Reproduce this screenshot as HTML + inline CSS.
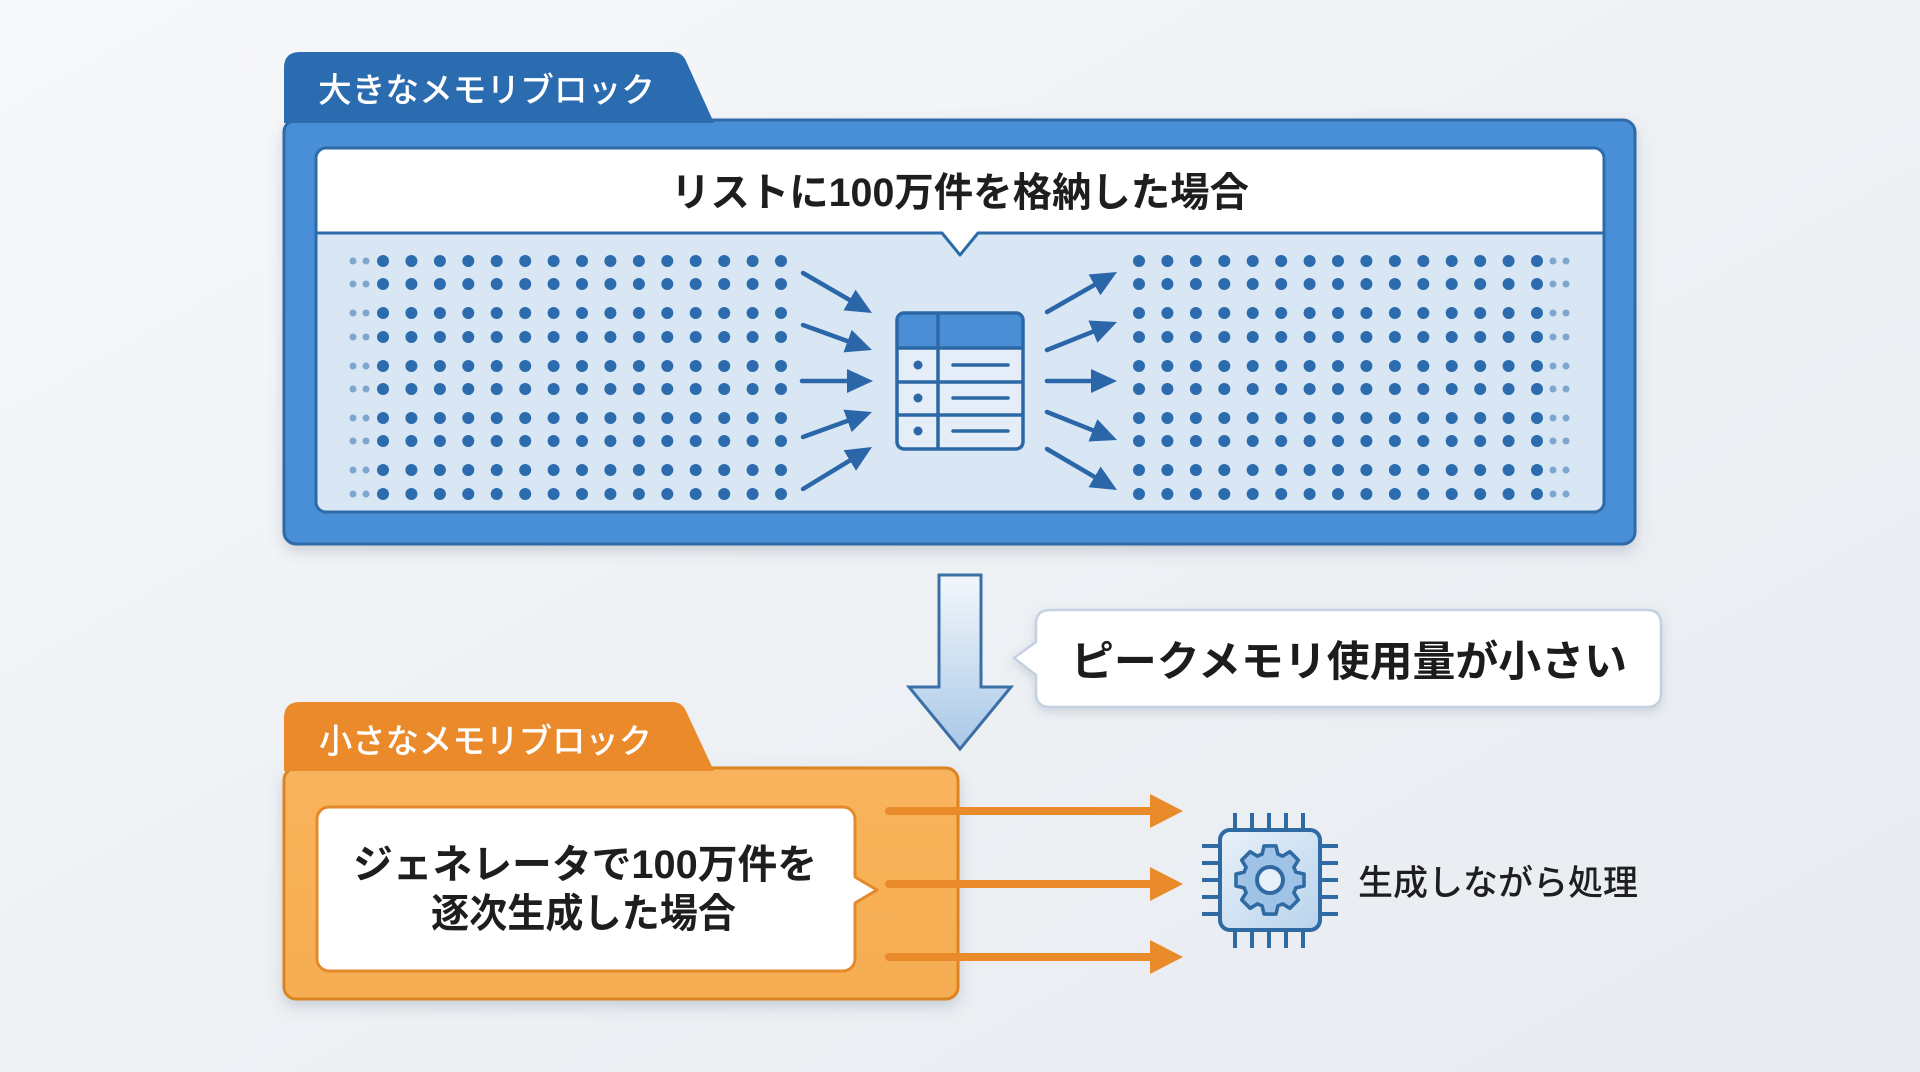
<!DOCTYPE html>
<html>
<head>
<meta charset="utf-8">
<style>
  html,body{margin:0;padding:0;width:1920px;height:1072px;overflow:hidden;background:#eef1f4;}
  svg{display:block;}
  text{font-family:"Liberation Sans","Noto Sans CJK JP",sans-serif;}
</style>
</head>
<body>
<svg width="1920" height="1072" viewBox="0 0 1920 1072" xmlns="http://www.w3.org/2000/svg">
  <defs>
    <linearGradient id="bg" x1="0" y1="0" x2="1" y2="1">
      <stop offset="0" stop-color="#f7f8fa"/>
      <stop offset="0.5" stop-color="#eef1f4"/>
      <stop offset="1" stop-color="#e7ebf0"/>
    </linearGradient>
    <linearGradient id="downArrow" x1="0" y1="0" x2="0" y2="1">
      <stop offset="0" stop-color="#f3f7fb"/>
      <stop offset="1" stop-color="#a9c8e7"/>
    </linearGradient>
    <linearGradient id="chipFill" x1="0" y1="0" x2="1" y2="1">
      <stop offset="0" stop-color="#e8f1fa"/>
      <stop offset="1" stop-color="#b9d3ec"/>
    </linearGradient>
    <linearGradient id="orangeFill" x1="0" y1="0" x2="0" y2="1">
      <stop offset="0" stop-color="#f8b45c"/>
      <stop offset="1" stop-color="#f6ad52"/>
    </linearGradient>
    <filter id="shadow" x="-10%" y="-10%" width="120%" height="130%">
      <feDropShadow dx="0" dy="6" stdDeviation="7" flood-color="#5a6a80" flood-opacity="0.25"/>
    </filter>
    <filter id="shadowSm" x="-10%" y="-20%" width="120%" height="150%">
      <feDropShadow dx="0" dy="4" stdDeviation="5" flood-color="#5a6a80" flood-opacity="0.2"/>
    </filter>
    <marker id="bh" viewBox="0 0 26 24" refX="4" refY="12" markerWidth="26" markerHeight="24" markerUnits="userSpaceOnUse" orient="auto">
      <path d="M0,0 L26,12 L0,24 Z" fill="#2a66a8"/>
    </marker>
    <g id="bigRowL">
      <circle cx="383" cy="0" r="6"/><circle cx="411.4" cy="0" r="6"/><circle cx="439.9" cy="0" r="6"/><circle cx="468.3" cy="0" r="6"/><circle cx="496.7" cy="0" r="6"/><circle cx="525.2" cy="0" r="6"/><circle cx="553.6" cy="0" r="6"/><circle cx="582" cy="0" r="6"/><circle cx="610.4" cy="0" r="6"/><circle cx="638.9" cy="0" r="6"/><circle cx="667.3" cy="0" r="6"/><circle cx="695.7" cy="0" r="6"/><circle cx="724.2" cy="0" r="6"/><circle cx="752.6" cy="0" r="6"/><circle cx="781" cy="0" r="6"/>
    </g>
    <g id="dotsL" fill="#7fa6ce">
      <circle cx="353" cy="261" r="3.5"/><circle cx="366" cy="261" r="3.5"/>
      <circle cx="353" cy="284" r="3.5"/><circle cx="366" cy="284" r="3.5"/>
      <circle cx="353" cy="313" r="3.5"/><circle cx="366" cy="313" r="3.5"/>
      <circle cx="353" cy="337" r="3.5"/><circle cx="366" cy="337" r="3.5"/>
      <circle cx="353" cy="366" r="3.5"/><circle cx="366" cy="366" r="3.5"/>
      <circle cx="353" cy="389" r="3.5"/><circle cx="366" cy="389" r="3.5"/>
      <circle cx="353" cy="418" r="3.5"/><circle cx="366" cy="418" r="3.5"/>
      <circle cx="353" cy="441" r="3.5"/><circle cx="366" cy="441" r="3.5"/>
      <circle cx="353" cy="470" r="3.5"/><circle cx="366" cy="470" r="3.5"/>
      <circle cx="353" cy="494" r="3.5"/><circle cx="366" cy="494" r="3.5"/>
    </g>
  </defs>

  <rect x="0" y="0" width="1920" height="1072" fill="url(#bg)"/>

  <!-- ===== Blue block ===== -->
  <g filter="url(#shadow)">
    <rect x="284" y="120" width="1351" height="424" rx="12" fill="#4a8fd7" stroke="#2d6aa8" stroke-width="3"/>
  </g>
  <path d="M284,123 L284,68 Q284,52 300,52 L672,52 Q682,52 686,61 L714,123 Z" fill="#2b6bb0"/>
  <text x="318" y="102" font-size="34" font-weight="500" fill="#ffffff" textLength="337" lengthAdjust="spacingAndGlyphs">大きなメモリブロック</text>

  <!-- inner box -->
  <path d="M316,233 L316,158 Q316,148 326,148 L1594,148 Q1604,148 1604,158 L1604,233 Z" fill="#ffffff"/>
  <path d="M316,233 L1604,233 L1604,502 Q1604,512 1594,512 L326,512 Q316,512 316,502 Z" fill="#d9e7f4"/>
  <polygon points="941,232 960,254 979,232" fill="#ffffff"/>
  <rect x="316" y="148" width="1288" height="364" rx="10" fill="none" stroke="#2d6aa8" stroke-width="3"/>
  <polyline points="316,233 942,233 960,255 978,233 1604,233" fill="none" stroke="#2d6aa8" stroke-width="3" stroke-linejoin="round"/>

  <text x="671" y="206" font-size="40" font-weight="700" fill="#1e1e1e" textLength="578" lengthAdjust="spacingAndGlyphs">リストに100万件を格納した場合</text>

  <!-- dots -->
  <use href="#dotsL"/>
  <use href="#dotsL" x="1200"/>
  <g fill="#2c6cae">
    <use href="#bigRowL" y="261"/><use href="#bigRowL" y="284"/>
    <use href="#bigRowL" y="313"/><use href="#bigRowL" y="337"/>
    <use href="#bigRowL" y="366"/><use href="#bigRowL" y="389"/>
    <use href="#bigRowL" y="418"/><use href="#bigRowL" y="441"/>
    <use href="#bigRowL" y="470"/><use href="#bigRowL" y="494"/>
    <use href="#bigRowL" x="756" y="261"/><use href="#bigRowL" x="756" y="284"/>
    <use href="#bigRowL" x="756" y="313"/><use href="#bigRowL" x="756" y="337"/>
    <use href="#bigRowL" x="756" y="366"/><use href="#bigRowL" x="756" y="389"/>
    <use href="#bigRowL" x="756" y="418"/><use href="#bigRowL" x="756" y="441"/>
    <use href="#bigRowL" x="756" y="470"/><use href="#bigRowL" x="756" y="494"/>
  </g>

  <!-- blue arrows -->
  <g stroke="#2a66a8" stroke-width="4.5" stroke-linecap="round" fill="none" marker-end="url(#bh)">
    <line x1="803" y1="273" x2="852.97" y2="301.97"/>
    <line x1="803" y1="325" x2="851.3" y2="342.5"/>
    <line x1="802" y1="381" x2="851" y2="381"/>
    <line x1="803" y1="437" x2="851.3" y2="419.5"/>
    <line x1="803" y1="489" x2="853.2" y2="458.4"/>
    <line x1="1047" y1="312" x2="1097.9" y2="282.9"/>
    <line x1="1047" y1="350" x2="1096.6" y2="330.2"/>
    <line x1="1047" y1="381" x2="1095" y2="381"/>
    <line x1="1047" y1="412" x2="1096.6" y2="431.8"/>
    <line x1="1047" y1="449" x2="1098" y2="478.9"/>
  </g>

  <!-- table icon -->
  <rect x="897" y="313" width="126" height="136" rx="7" fill="#e5eef8"/>
  <path d="M897,348 L897,320 Q897,313 904,313 L1016,313 Q1023,313 1023,320 L1023,348 Z" fill="#4a8fd6"/>
  <g stroke="#2c68a6" stroke-width="3.5" fill="none">
    <rect x="897" y="313" width="126" height="136" rx="7"/>
    <line x1="897" y1="348" x2="1023" y2="348"/>
    <line x1="897" y1="382" x2="1023" y2="382"/>
    <line x1="897" y1="415" x2="1023" y2="415"/>
    <line x1="938" y1="313" x2="938" y2="449"/>
    <line x1="953" y1="365" x2="1008" y2="365" stroke-linecap="round"/>
    <line x1="953" y1="398" x2="1008" y2="398" stroke-linecap="round"/>
    <line x1="953" y1="431" x2="1008" y2="431" stroke-linecap="round"/>
  </g>
  <g fill="#2c68a6">
    <circle cx="918" cy="365" r="4.5"/>
    <circle cx="918" cy="398" r="4.5"/>
    <circle cx="918" cy="431" r="4.5"/>
  </g>

  <!-- ===== Down arrow ===== -->
  <path d="M939,575 L981,575 L981,687 L1011,687 L960,749 L909,687 L939,687 Z" fill="url(#downArrow)" stroke="#3b70a7" stroke-width="3" stroke-linejoin="miter"/>

  <!-- ===== Callout ===== -->
  <g filter="url(#shadowSm)">
    <path d="M1050,610 L1647,610 Q1661,610 1661,624 L1661,693 Q1661,707 1647,707 L1050,707 Q1036,707 1036,693 L1036,675 L1014,658 L1036,642 L1036,624 Q1036,610 1050,610 Z" fill="#ffffff" stroke="#c3d1e1" stroke-width="2.5"/>
  </g>
  <text x="1071" y="676" font-size="42" font-weight="700" fill="#1c1c1c" textLength="556" lengthAdjust="spacingAndGlyphs">ピークメモリ使用量が小さい</text>

  <!-- ===== Orange block ===== -->
  <g filter="url(#shadow)">
    <rect x="284" y="768" width="674" height="231" rx="12" fill="url(#orangeFill)" stroke="#dc8424" stroke-width="3"/>
  </g>
  <path d="M284,771 L284,718 Q284,702 300,702 L672,702 Q682,702 686,711 L714,771 Z" fill="#ea8a2b"/>
  <text x="319" y="753" font-size="34" font-weight="500" fill="#ffffff" textLength="333" lengthAdjust="spacingAndGlyphs">小さなメモリブロック</text>

  <rect x="317" y="807" width="538" height="164" rx="12" fill="#ffffff" stroke="#e38a2b" stroke-width="3"/>
  <rect x="852" y="879" width="6" height="22" fill="#ffffff"/>
  <polygon points="853,877 877,890 853,903" fill="#ffffff"/>
  <polyline points="855,877 877,890 855,903" fill="none" stroke="#e38a2b" stroke-width="3" stroke-linejoin="round"/>

  <text x="353" y="878" font-size="40" font-weight="700" fill="#1e1e1e" textLength="464" lengthAdjust="spacingAndGlyphs">ジェネレータで100万件を</text>
  <text x="431" y="927" font-size="40" font-weight="700" fill="#1e1e1e" textLength="305" lengthAdjust="spacingAndGlyphs">逐次生成した場合</text>

  <!-- orange arrows -->
  <g stroke="#e98a2b" stroke-width="8" stroke-linecap="round">
    <line x1="889" y1="811" x2="1155" y2="811"/>
    <line x1="889" y1="884" x2="1155" y2="884"/>
    <line x1="889" y1="957" x2="1155" y2="957"/>
  </g>
  <g fill="#e98a2b">
    <polygon points="1150,794 1183,811 1150,828"/>
    <polygon points="1150,867 1183,884 1150,901"/>
    <polygon points="1150,940 1183,957 1150,974"/>
  </g>

  <!-- chip -->
  <g stroke="#2f6aa3" stroke-width="4" stroke-linecap="butt">
    <line x1="1235" y1="813" x2="1235" y2="832"/><line x1="1252" y1="813" x2="1252" y2="832"/><line x1="1269" y1="813" x2="1269" y2="832"/><line x1="1286" y1="813" x2="1286" y2="832"/><line x1="1303" y1="813" x2="1303" y2="832"/>
    <line x1="1235" y1="928" x2="1235" y2="948"/><line x1="1252" y1="928" x2="1252" y2="948"/><line x1="1269" y1="928" x2="1269" y2="948"/><line x1="1286" y1="928" x2="1286" y2="948"/><line x1="1303" y1="928" x2="1303" y2="948"/>
    <line x1="1202" y1="846" x2="1222" y2="846"/><line x1="1202" y1="863" x2="1222" y2="863"/><line x1="1202" y1="880" x2="1222" y2="880"/><line x1="1202" y1="897" x2="1222" y2="897"/><line x1="1202" y1="914" x2="1222" y2="914"/>
    <line x1="1318" y1="846" x2="1338" y2="846"/><line x1="1318" y1="863" x2="1338" y2="863"/><line x1="1318" y1="880" x2="1338" y2="880"/><line x1="1318" y1="897" x2="1338" y2="897"/><line x1="1318" y1="914" x2="1338" y2="914"/>
  </g>
  <rect x="1220" y="830" width="100" height="100" rx="10" fill="url(#chipFill)" stroke="#2f6aa3" stroke-width="4"/>
  <g transform="translate(1270,880) scale(1.08)">
    <path d="M23.91,-7.31 L31.51,-5.56 L31.51,5.56 L23.91,7.31 A25,25 0 0 1 22.07,11.74 L26.21,18.35 L18.35,26.21 L11.74,22.07 A25,25 0 0 1 7.31,23.91 L5.56,31.51 L-5.56,31.51 L-7.31,23.91 A25,25 0 0 1 -11.74,22.07 L-18.35,26.21 L-26.21,18.35 L-22.07,11.74 A25,25 0 0 1 -23.91,7.31 L-31.51,5.56 L-31.51,-5.56 L-23.91,-7.31 A25,25 0 0 1 -22.07,-11.74 L-26.21,-18.35 L-18.35,-26.21 L-11.74,-22.07 A25,25 0 0 1 -7.31,-23.91 L-5.56,-31.51 L5.56,-31.51 L7.31,-23.91 A25,25 0 0 1 11.74,-22.07 L18.35,-26.21 L26.21,-18.35 L22.07,-11.74 A25,25 0 0 1 23.91,-7.31 Z" fill="#9fc3e6" stroke="#2f6aa3" stroke-width="3.3" stroke-linejoin="round"/>
    <circle cx="0" cy="0" r="12" fill="#e6f0f9" stroke="#2f6aa3" stroke-width="3.7"/>
  </g>
  <text x="1358" y="895" font-size="35" font-weight="500" fill="#1e1e1e" textLength="280" lengthAdjust="spacingAndGlyphs">生成しながら処理</text>
</svg>
</body>
</html>
